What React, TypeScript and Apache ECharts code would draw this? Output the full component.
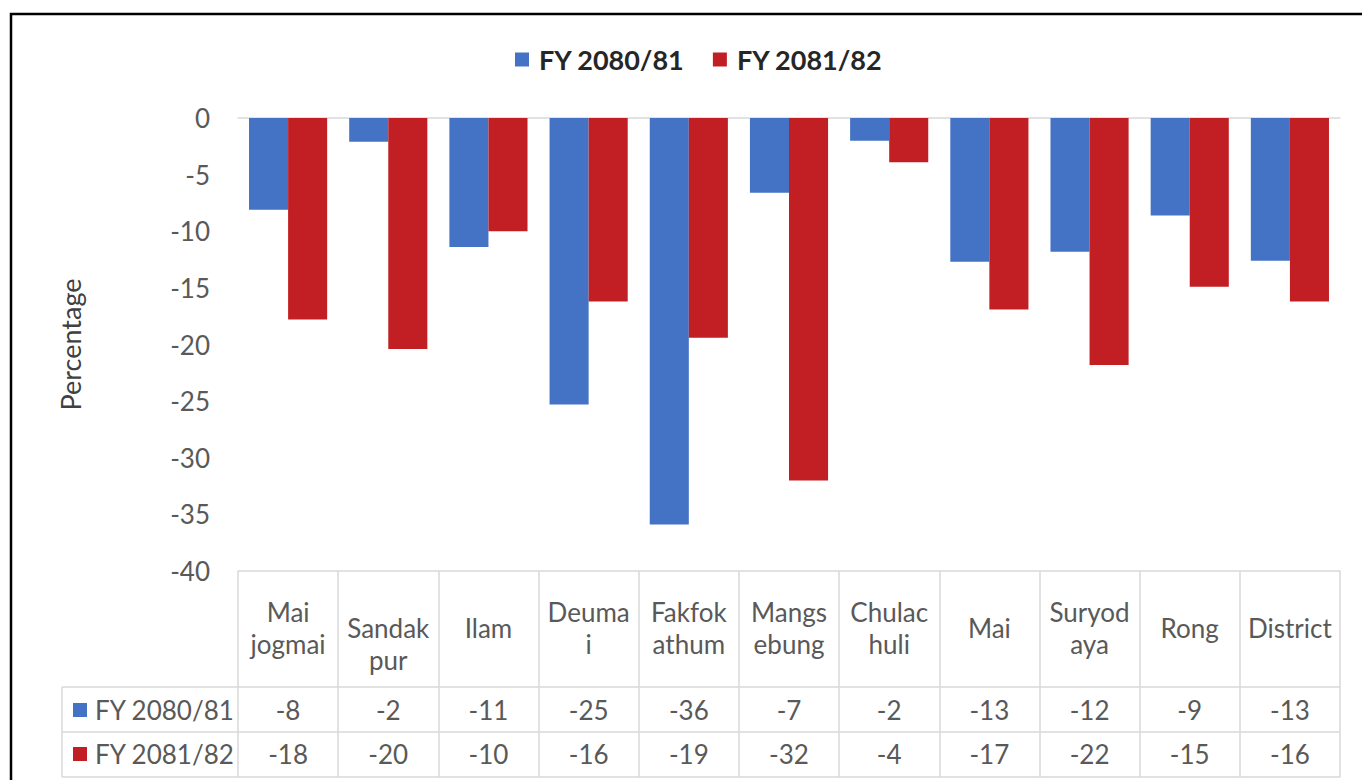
import React, { useEffect, useRef } from "react";
import * as echarts from "echarts";

const seriesNames = ["FY 2080/81", "FY 2081/82"];
const categoryLabels = [
  "Mai\njogmai",
  "\nSandak\npur",
  "Ilam",
  "Deuma\ni",
  "Fakfok\nathum",
  "Mangs\nebung",
  "Chulac\nhuli",
  "Mai",
  "Suryod\naya",
  "Rong",
  "District",
];
const fy8081 = [-8.1, -2.1, -11.4, -25.3, -35.9, -6.6, -2.0, -12.7, -11.8, -8.6, -12.6];
const fy8182 = [-17.8, -20.4, -10.0, -16.2, -19.4, -32.0, -3.9, -16.9, -21.8, -14.9, -16.2];
const yTicks = { min: -40, max: 0, interval: 5 };

const colors = ["#4472C4", "#C21F24"];
const FONT = "Lato, 'Noto Sans', sans-serif";
const TEXT = "#595959";
const LINE = "#d9d9d9";

export default function App() {
  const ref = useRef<HTMLDivElement>(null);
  useEffect(() => {
    if (!ref.current) return;
    const chart = echarts.init(ref.current, undefined, { renderer: "svg" });
    const gridLeft = 238;
    const gridRight = 1340;
    const gridTop = 118;
    const gridBottom = 571;
    const rowLines = [687, 732, 777];
    const tableLeft = 62;
    const rowCenters = [710, 754];
    const rows = [fy8081, fy8182].map((arr) => arr.map((v) => String(Math.round(v))));

    const baseLabel = {
      interval: 0,
      verticalAlign: "middle" as const,
      fontSize: 26,
      lineHeight: 32,
      color: TEXT,
      fontFamily: FONT,
    };

    const graphics: any[] = [
      {
        type: "rect",
        silent: true,
        shape: { x: 11, y: 14, width: 1420, height: 820 },
        style: { fill: "none", stroke: "#000", lineWidth: 2.5 },
      },
      ...rowLines.map((y) => ({
        type: "line",
        silent: true,
        shape: { x1: tableLeft, y1: y, x2: gridRight, y2: y },
        style: { stroke: LINE, lineWidth: 1.5 },
      })),
      {
        type: "line",
        silent: true,
        shape: { x1: tableLeft, y1: rowLines[0], x2: tableLeft, y2: rowLines[2] },
        style: { stroke: LINE, lineWidth: 1.5 },
      },
    ];
    seriesNames.forEach((name, i) => {
      graphics.push({
        type: "rect",
        silent: true,
        shape: { x: 73, y: rowCenters[i] - 7, width: 14, height: 14 },
        style: { fill: colors[i] },
      });
      graphics.push({
        type: "text",
        silent: true,
        x: 95,
        y: rowCenters[i],
        style: {
          text: name,
          fontSize: 26,
          fontFamily: FONT,
          fill: TEXT,
          verticalAlign: "middle",
          align: "left",
        },
      });
    });

    chart.setOption({
      animation: false,
      backgroundColor: "#ffffff",
      color: colors,
      textStyle: { fontFamily: FONT },
      legend: {
        data: seriesNames,
        left: 510,
        top: 41,
        icon: "rect",
        itemWidth: 14,
        itemHeight: 14,
        itemGap: 28,
        textStyle: {
          fontSize: 27,
          fontWeight: "bold",
          color: "#262626",
          fontFamily: FONT,
          padding: [0, 0, 0, 5],
        },
      },
      grid: {
        left: gridLeft,
        right: 1362 - gridRight,
        top: gridTop,
        bottom: 780 - gridBottom,
        containLabel: false,
      },
      xAxis: [
        {
          type: "category",
          data: categoryLabels,
          position: "bottom",
          axisLine: { onZero: false, lineStyle: { color: LINE, width: 1.5 } },
          axisTick: { show: true, interval: 0, length: 206, lineStyle: { color: LINE, width: 1.5 } },
          axisLabel: { ...baseLabel, margin: 57 },
          splitLine: { show: false },
        },
        {
          type: "category",
          data: categoryLabels,
          position: "top",
          axisLine: { onZero: false, lineStyle: { color: LINE, width: 1.5 } },
          axisTick: { show: false },
          axisLabel: { show: false },
        },
        {
          type: "category",
          data: rows[0],
          position: "bottom",
          axisLine: { show: false, onZero: false },
          axisTick: { show: false },
          axisLabel: { ...baseLabel, margin: rowCenters[0] - gridBottom },
        },
        {
          type: "category",
          data: rows[1],
          position: "bottom",
          axisLine: { show: false, onZero: false },
          axisTick: { show: false },
          axisLabel: { ...baseLabel, margin: rowCenters[1] - gridBottom },
        },
      ],
      yAxis: {
        type: "value",
        min: yTicks.min,
        max: yTicks.max,
        interval: yTicks.interval,
        name: "Percentage",
        nameLocation: "middle",
        nameGap: 154,
        nameRotate: 90,
        nameTextStyle: { fontSize: 27, color: "#404040", fontFamily: FONT },
        axisLine: { show: false },
        axisTick: { show: false },
        splitLine: { show: false },
        axisLabel: { fontSize: 26, color: TEXT, fontFamily: FONT, margin: 28 },
      },
      series: [
        {
          name: seriesNames[0],
          type: "bar",
          xAxisIndex: 0,
          data: fy8081,
          barGap: "0%",
          barCategoryGap: "22%",
          itemStyle: { color: colors[0] },
        },
        {
          name: seriesNames[1],
          type: "bar",
          xAxisIndex: 0,
          data: fy8182,
          barGap: "0%",
          barCategoryGap: "22%",
          itemStyle: { color: colors[1] },
        },
      ],
      graphic: graphics,
    });
    return () => chart.dispose();
  }, []);
  return (
    <div
      ref={ref}
      style={{ position: "fixed", left: 0, top: 0, width: 1362, height: 780, background: "#fff" }}
    />
  );
}
